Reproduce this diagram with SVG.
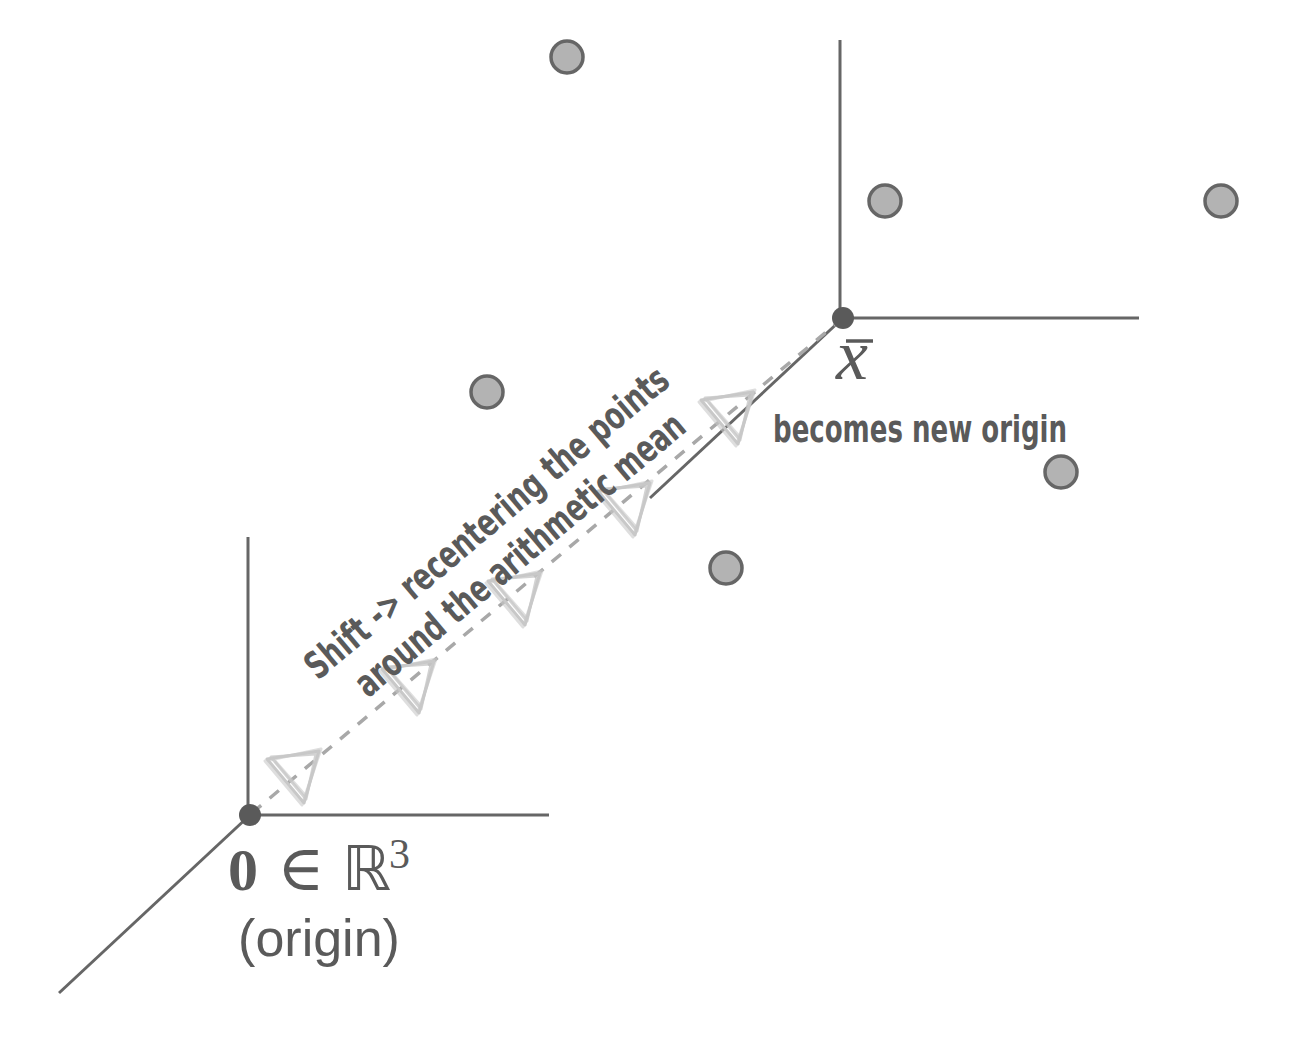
<svg xmlns="http://www.w3.org/2000/svg" xmlns:xlink="http://www.w3.org/1999/xlink" width="1296" height="1064" viewBox="0 0 1296 1064">
  <style>
    .axis { stroke: #666666; stroke-width: 3; fill: none; stroke-linecap: butt; }
    .pt { fill: #b3b3b3; stroke: #666666; stroke-width: 3.5; }
    .org { fill: #5a5a5a; }
    .dash { stroke: #a8a8a8; stroke-width: 3.5; stroke-dasharray: 12 11; fill: none; }
    .ah { fill: none; stroke: #c8c8c8; stroke-width: 3; stroke-linejoin: round; }
    .hand { font-family: "Liberation Sans Narrow", "DejaVu Sans Condensed", "Liberation Sans", sans-serif; fill: #5a5a5a; font-size: 38px; font-weight: bold; }
    .lbl { fill: #5a5a5a; }
  </style>
  <defs>
    <g id="arrowhead">
      <polygon class="ah" points="0,0 -52,8 -15,52"/>
      <polygon class="ah" points="-3,3 -48,6 -13,48" opacity="0.8"/>
      <polygon class="ah" points="2,-2 -54,10 -17,54" opacity="0.6"/>
      <polyline class="ah" points="-44,10 -14,44" opacity="0.6"/>
    </g>
  </defs>
  <rect width="1296" height="1064" fill="#ffffff"/>

  <g id="axes-origin">
    <line class="axis" x1="248" y1="537" x2="248" y2="815"/>
    <line class="axis" x1="250" y1="815" x2="549" y2="815"/>
    <line class="axis" x1="59" y1="993" x2="250" y2="815"/>
  </g>
  <g id="axes-mean">
    <line class="axis" x1="840" y1="40" x2="840" y2="318"/>
    <line class="axis" x1="843" y1="318" x2="1139" y2="318"/>
    <line class="axis" x1="650" y1="498" x2="843" y2="318"/>
  </g>

  <g id="connectors">
    <line class="dash" x1="252" y1="813" x2="843" y2="318"/>
    <use xlink:href="#arrowhead" x="319" y="751"/>
    <use xlink:href="#arrowhead" x="434" y="661"/>
    <use xlink:href="#arrowhead" x="540" y="573"/>
    <use xlink:href="#arrowhead" x="650" y="483"/>
    <use xlink:href="#arrowhead" x="753" y="392"/>
  </g>

  <g id="origin">
    <circle class="org" cx="250" cy="815" r="11"/>
    <text class="lbl" y="890"><tspan x="228" font-family="Liberation Serif, serif" font-weight="bold" font-size="60">0</tspan><tspan x="277" font-family="DejaVu Serif, serif" font-size="64">∈</tspan><tspan x="342" font-family="DejaVu Sans, sans-serif" font-size="62">ℝ</tspan><tspan x="389" y="868" font-family="Liberation Serif, serif" font-size="42">3</tspan></text>
    <text class="lbl" x="319" y="956" text-anchor="middle" font-family="Liberation Sans, Arial, sans-serif" font-size="52">(origin)</text>
  </g>

  <g id="mean">
    <circle class="org" cx="843" cy="318" r="11"/>
    <line x1="846" y1="341" x2="873" y2="341" stroke="#5a5a5a" stroke-width="3.5"/>
    <text class="lbl" x="836" y="379" font-family="Liberation Serif, serif" font-style="italic" font-size="72">x</text>
    <text class="hand" x="773" y="442" textLength="294" lengthAdjust="spacingAndGlyphs">becomes new origin</text>
  </g>

  <g id="shift-label">
    <text class="hand" transform="translate(488,524) rotate(-40)" x="0" y="11" text-anchor="middle" textLength="462" lengthAdjust="spacingAndGlyphs">Shift -&gt; recentering the points</text>
    <text class="hand" transform="translate(521,556) rotate(-40)" x="0" y="11" text-anchor="middle" textLength="418" lengthAdjust="spacingAndGlyphs">around the arithmetic mean</text>
  </g>

  <g id="points">
    <circle class="pt" cx="567" cy="57" r="16"/>
    <circle class="pt" cx="885" cy="201" r="16"/>
    <circle class="pt" cx="1221" cy="201" r="16"/>
    <circle class="pt" cx="487" cy="392" r="16"/>
    <circle class="pt" cx="1061" cy="472" r="16"/>
    <circle class="pt" cx="726" cy="568" r="16"/>
  </g>
</svg>
